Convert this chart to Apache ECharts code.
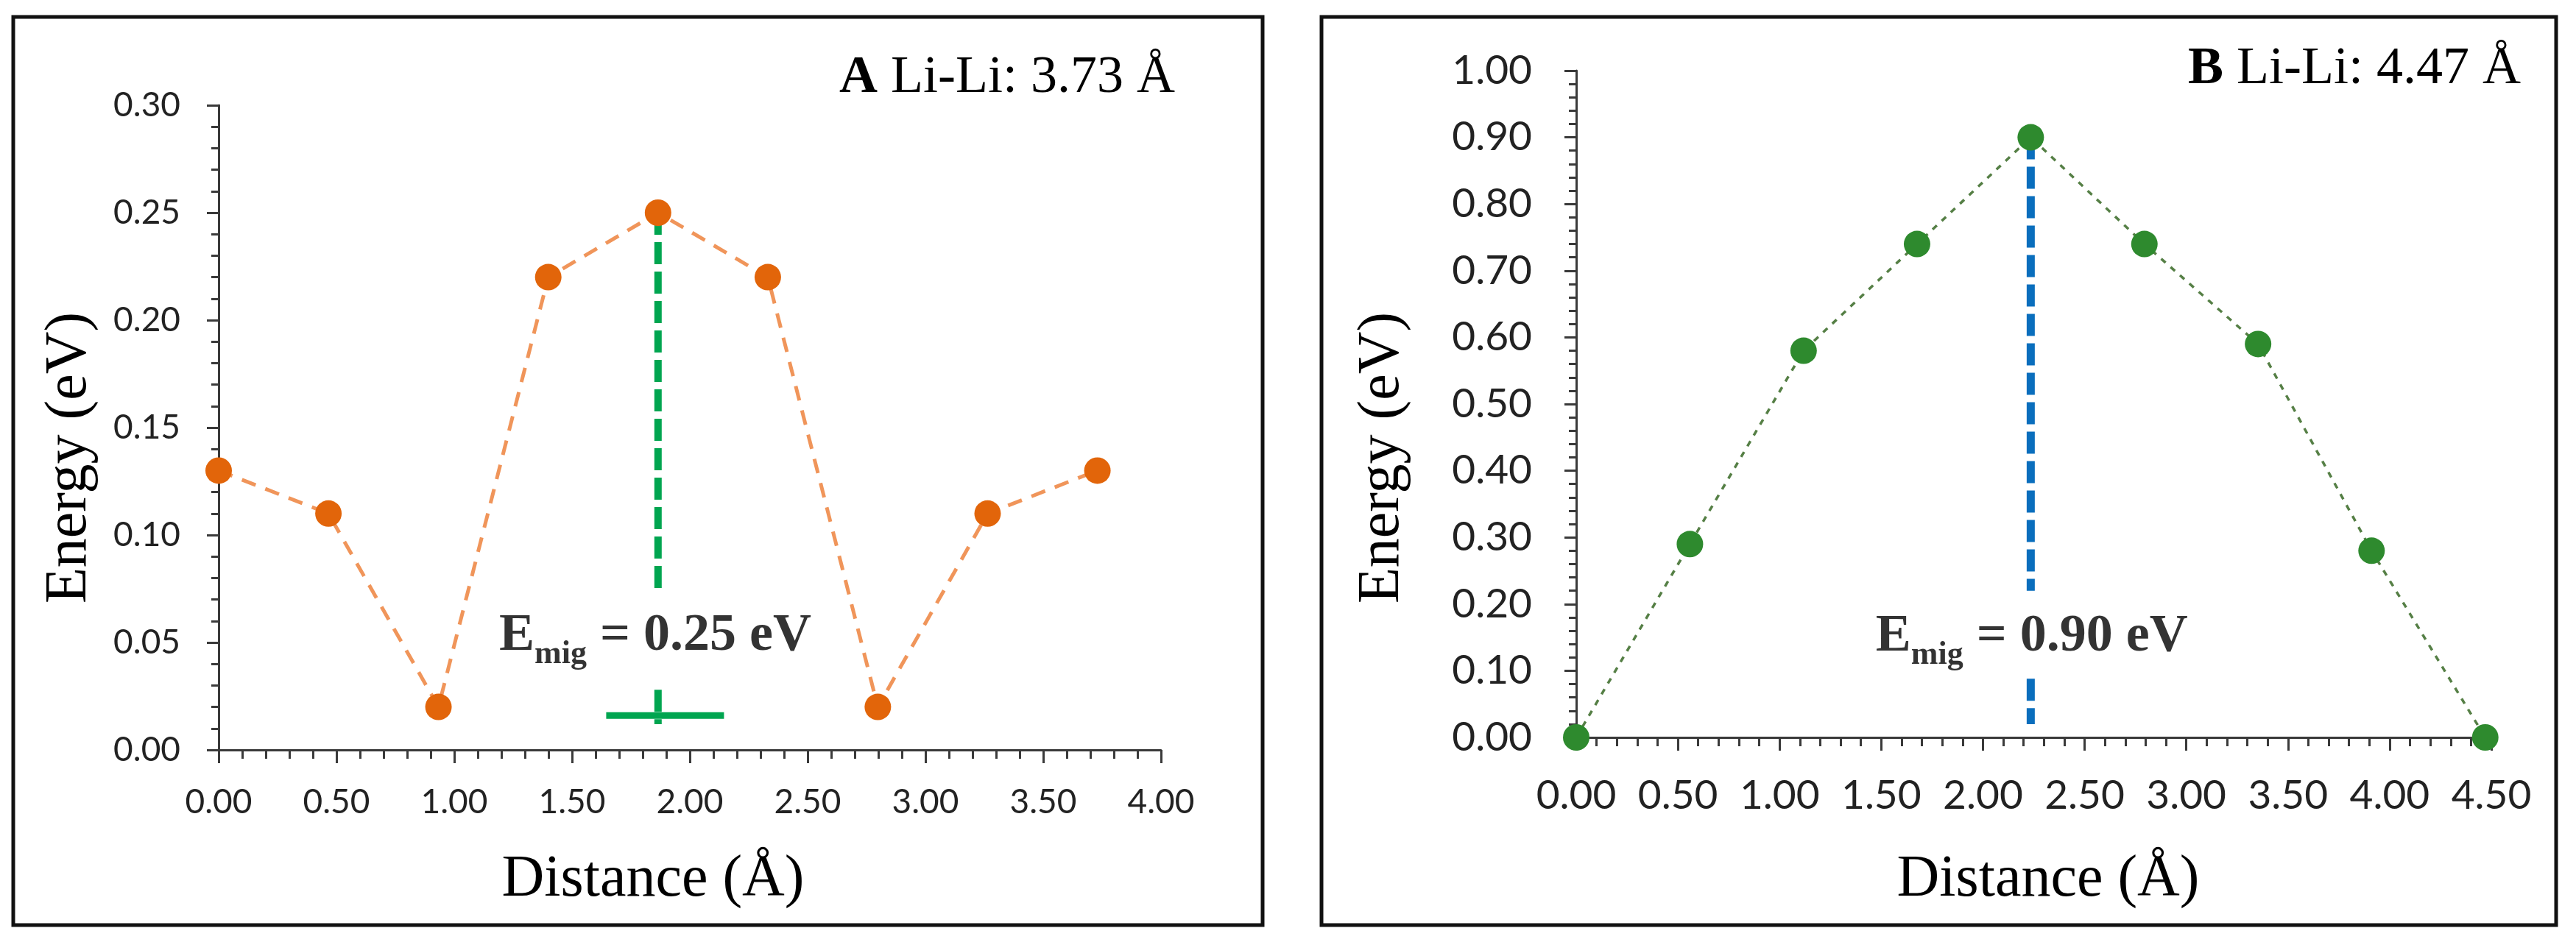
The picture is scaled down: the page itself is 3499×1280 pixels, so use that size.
<!DOCTYPE html>
<html>
<head>
<meta charset="utf-8">
<script src="https://cdn.jsdelivr.net/npm/echarts@6/dist/echarts.min.js"></script>
<style>
body { margin: 0; background: #fff; }
#main { width: 3499px; height: 1280px; }
</style>
</head>
<body>
<div id="main"></div>
<script>
// panel A, Li-Li 3.73 Å
var distA = [0, 0.466, 0.933, 1.399, 1.865, 2.331, 2.798, 3.264, 3.73];
var energyA = [0.13, 0.11, 0.02, 0.22, 0.25, 0.22, 0.02, 0.11, 0.13];
// panel B, Li-Li 4.47 Å
var distB = [0, 0.559, 1.118, 1.676, 2.235, 2.794, 3.353, 3.911, 4.47];
var energyB = [0, 0.29, 0.58, 0.74, 0.90, 0.74, 0.59, 0.28, 0];

// axis ranges: [min, max, interval]
var xRangeA = [0, 4, 0.5];
var yRangeA = [0, 0.3, 0.05];
var xRangeB = [0, 4.5, 0.5];
var yRangeB = [0, 1, 0.1];

// barrier markers (distance, energy)
var barrierA = [[1.865, 0.25], [1.865, 0.074]];
var barrierBaseA = [[1.865, 0.028], [1.865, 0.012]];
var baseLineA = [[1.645, 0.016], [2.145, 0.016]];
var labelPosA = [1.853, 0.053];
var barrierB = [[2.235, 0.90], [2.235, 0.22]];
var barrierBaseB = [[2.235, 0.088], [2.235, 0.02]];
var labelPosB = [2.24, 0.151];

var SERIF = '"Liberation Serif", "DejaVu Serif", serif';
var SANS = 'Lato, "Open Sans", sans-serif';
var AXIS_COLOR = '#3a3a3a';

function pairs(xs, ys) {
    return xs.map(function (x, i) { return [x, ys[i]]; });
}

function axisOf(idx, range, fontSize, margin, tickLen, minorLen) {
    return {
        type: 'value',
        gridIndex: idx,
        min: range[0],
        max: range[1],
        interval: range[2],
        axisLine: { show: true, onZero: false, lineStyle: { color: AXIS_COLOR, width: 3 } },
        axisTick: { show: true, length: tickLen, lineStyle: { color: AXIS_COLOR, width: 3 } },
        minorTick: { show: true, splitNumber: 5, length: minorLen, lineStyle: { color: AXIS_COLOR, width: 3 } },
        splitLine: { show: false },
        minorSplitLine: { show: false },
        axisLabel: {
            margin: margin,
            fontSize: fontSize,
            fontFamily: SANS,
            color: '#222',
            formatter: function (v) { return v.toFixed(2); }
        }
    };
}

function emigLabel(value) {
    return '{e|E}{s|mig}{e| = ' + value.toFixed(2) + ' eV}';
}
var emigRich = {
    e: { fontSize: 72, fontWeight: 'bold', fontFamily: SERIF, color: '#000' },
    s: { fontSize: 44, fontWeight: 'bold', fontFamily: SERIF, color: '#000', padding: [50, 0, 0, 0] }
};

function dashLine(axis, data, color, width, dash) {
    return {
        type: 'line',
        xAxisIndex: axis, yAxisIndex: axis,
        data: data,
        symbol: 'none',
        silent: true,
        clip: false,
        z: 2,
        lineStyle: { color: color, width: width, type: dash }
    };
}

function labelSeries(axis, pos, value) {
    return {
        type: 'scatter',
        xAxisIndex: axis, yAxisIndex: axis,
        data: [pos],
        symbolSize: 2,
        silent: true,
        z: 6,
        itemStyle: { color: 'rgba(0,0,0,0)' },
        label: { show: true, position: 'inside', formatter: emigLabel(value), rich: emigRich }
    };
}

function textEl(text, x, y, size, rotate, rich) {
    return {
        type: 'text',
        x: x, y: y,
        rotation: rotate ? Math.PI / 2 : 0,
        style: {
            text: text,
            font: size + 'px ' + SERIF,
            fill: '#000',
            align: 'center', textAlign: 'center',
            verticalAlign: 'middle', textVerticalAlign: 'middle',
            rich: rich
        }
    };
}

var myChart = echarts.init(document.getElementById('main'));
var option = {
    animation: false,
    backgroundColor: '#fff',
    grid: [
        { left: 297, top: 143, width: 1280, height: 876 },
        { left: 2141, top: 96, width: 1243, height: 906 }
    ],
    xAxis: [
        axisOf(0, xRangeA, 46, 48, 18, 12),
        axisOf(1, xRangeB, 55, 52, 18, 12)
    ],
    yAxis: [
        axisOf(0, yRangeA, 46, 52, 16, 10),
        axisOf(1, yRangeB, 55, 60, 16, 10)
    ],
    graphic: [
        { type: 'rect', shape: { x: 18, y: 23, width: 1697, height: 1234 },
          style: { fill: 'none', stroke: '#111', lineWidth: 5 } },
        { type: 'rect', shape: { x: 1795, y: 23, width: 1677, height: 1234 },
          style: { fill: 'none', stroke: '#111', lineWidth: 5 } },
        {
            type: 'text', x: 1596, y: 106,
            style: {
                text: '{b|A} Li-Li: 3.73 Å', font: '72px ' + SERIF, fill: '#000',
                align: 'right', textAlign: 'right', verticalAlign: 'middle', textVerticalAlign: 'middle',
                rich: { b: { fontWeight: 'bold', fontSize: 72, fontFamily: SERIF, fill: '#000' } }
            }
        },
        {
            type: 'text', x: 3424, y: 94,
            style: {
                text: '{b|B} Li-Li: 4.47 Å', font: '72px ' + SERIF, fill: '#000',
                align: 'right', textAlign: 'right', verticalAlign: 'middle', textVerticalAlign: 'middle',
                rich: { b: { fontWeight: 'bold', fontSize: 72, fontFamily: SERIF, fill: '#000' } }
            }
        },
        textEl('Energy (eV)', 95, 622, 80, true),
        textEl('Distance (Å)', 887, 1196, 80, false),
        textEl('Energy (eV)', 1878, 622, 80, true),
        textEl('Distance (Å)', 2782, 1196, 80, false)
    ],
    series: [
        dashLine(0, barrierA, '#00A550', 10, [30, 10]),
        dashLine(0, barrierBaseA, '#00A550', 10, [30, 10]),
        dashLine(0, baseLineA, '#00A550', 9, 'solid'),
        {
            type: 'line',
            xAxisIndex: 0, yAxisIndex: 0,
            data: pairs(distA, energyA),
            symbol: 'circle',
            symbolSize: 36,
            clip: false,
            z: 5,
            itemStyle: { color: '#E2650A' },
            lineStyle: { color: '#F0955A', width: 5, type: [20, 14] }
        },
        labelSeries(0, labelPosA, Math.max.apply(null, energyA)),

        dashLine(1, barrierB, '#0A6EBD', 11, [30, 10]),
        dashLine(1, barrierBaseB, '#0A6EBD', 11, [30, 10]),
        {
            type: 'line',
            xAxisIndex: 1, yAxisIndex: 1,
            data: pairs(distB, energyB),
            symbol: 'circle',
            symbolSize: 36,
            clip: false,
            z: 5,
            itemStyle: { color: '#2E8A2E' },
            lineStyle: { color: '#557F45', width: 3.5, type: [8, 9] }
        },
        labelSeries(1, labelPosB, Math.max.apply(null, energyB))
    ]
};
myChart.setOption(option);
</script>
</body>
</html>
